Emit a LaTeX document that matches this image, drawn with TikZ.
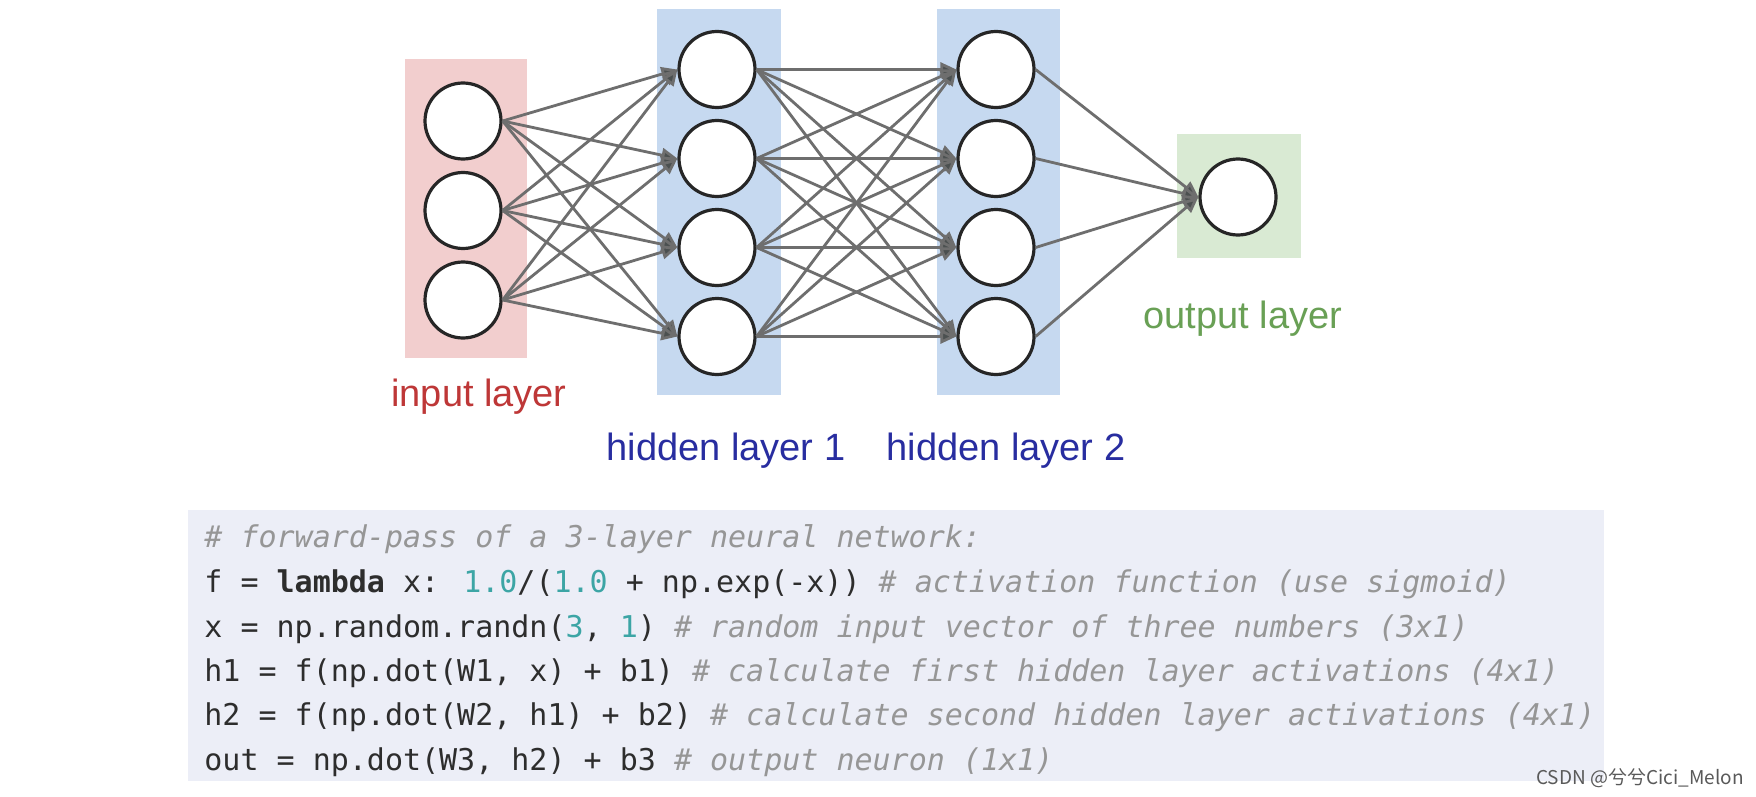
\documentclass[tikz,border=0pt]{standalone}
\usepackage{fontspec}
\setmainfont{Liberation Sans}
\newfontfamily\codefont{DejaVu Sans Mono}
\newfontfamily\cjkfont{Noto Sans CJK SC}
\usetikzlibrary{arrows.meta}
\definecolor{inbg}{RGB}{242,206,206}
\definecolor{hidbg}{RGB}{198,217,240}
\definecolor{outbg}{RGB}{217,234,211}
\definecolor{intxt}{RGB}{190,55,55}
\definecolor{hidtxt}{RGB}{40,45,160}
\definecolor{outtxt}{RGB}{105,160,85}
\definecolor{codebg}{RGB}{236,238,247}
\definecolor{codetxt}{RGB}{45,45,45}
\definecolor{codenum}{RGB}{60,165,165}
\definecolor{codecmt}{RGB}{150,150,150}
\definecolor{conncol}{RGB}{110,110,110}
\definecolor{tipcol}{RGB}{75,80,80}
\newcommand\cmtxt[1]{{\color{codecmt}\itshape #1}}
\newcommand\numtxt[1]{{\color{codenum}#1}}
\newcommand\kwtxt[1]{{\bfseries #1}}
\begin{document}
\begin{tikzpicture}[x=0.5pt,y=-0.5pt,
  neuron/.style={circle,draw=black!85,fill=white,line width=1.6pt,inner sep=0pt,minimum size=38pt},
  conn/.style={draw=conncol,line width=1.4pt,-{Triangle[length=8pt,width=7pt,fill=tipcol]}},
  lbl/.style={font=\fontsize{19}{22}\selectfont},
  codeline/.style={anchor=base west,inner sep=0pt,text=codetxt,font=\codefont\fontsize{15}{18}\selectfont}]
\useasboundingbox (0,0) rectangle (1756,797);
\fill[white] (0,0) rectangle (1756,797);
% layer backgrounds
\fill[inbg] (405,59) rectangle (527,358);
\fill[hidbg] (657,9) rectangle (781,395);
\fill[hidbg] (937,9) rectangle (1060,395);
\fill[outbg] (1177,134) rectangle (1301,258);
% neurons
\node[neuron] (i1) at (463,121) {};
\node[neuron] (i2) at (463,210.5) {};
\node[neuron] (i3) at (463,300) {};
\foreach \k/\y in {1/69.5,2/158.5,3/247.5,4/336.5}{
  \node[neuron] (a\k) at (717,\y) {};
  \node[neuron] (b\k) at (996,\y) {};
}
\node[neuron] (o1) at (1238,197) {};
% connectors
\foreach \s in {i1,i2,i3}{\foreach \t in {a1,a2,a3,a4}{\draw[conn] (\s.east) -- (\t.west);}}
\foreach \s in {a1,a2,a3,a4}{\foreach \t in {b1,b2,b3,b4}{\draw[conn] (\s.east) -- (\t.west);}}
\foreach \s in {b1,b2,b3,b4}{\draw[conn] (\s.east) -- (o1.west);}
% labels
\node[lbl,text=intxt] (lin) at (479,397) {input layer};
\node[lbl,text=hidtxt] (lh1) at (726,451) {hidden layer 1};
\node[lbl,text=hidtxt] (lh2) at (1006,451) {hidden layer 2};
\node[lbl,text=outtxt] (lout) at (1243,319) {output layer};
% code
\fill[codebg] (188,510) rectangle (1604,781);
\node[codeline] (c1) at (204,547.5) {\cmtxt{\# forward-pass of a 3-layer neural network:}};
\node[codeline] (c2) at (204,592.3) {f = \kwtxt{lambda} x: \numtxt{1.0}/(\numtxt{1.0} + np.exp(-x)) \cmtxt{\# activation function (use sigmoid)}};
\node[codeline] (c3) at (204,637.1) {x = np.random.randn(\numtxt{3}, \numtxt{1}) \cmtxt{\# random input vector of three numbers (3x1)}};
\node[codeline] (c4) at (204,681.9) {h1 = f(np.dot(W1, x) + b1) \cmtxt{\# calculate first hidden layer activations (4x1)}};
\node[codeline] (c5) at (204,725.6) {h2 = f(np.dot(W2, h1) + b2) \cmtxt{\# calculate second hidden layer activations (4x1)}};
\node[codeline] (c6) at (204,770.4) {out = np.dot(W3, h2) + b3 \cmtxt{\# output neuron (1x1)}};
% watermark
\node[anchor=east,inner sep=0pt,text=black!65,font=\cjkfont\fontsize{9.5}{11}\selectfont] (wm) at (1744,778) {CSDN @兮兮Cici\_Melon};
\end{tikzpicture}
\end{document}
